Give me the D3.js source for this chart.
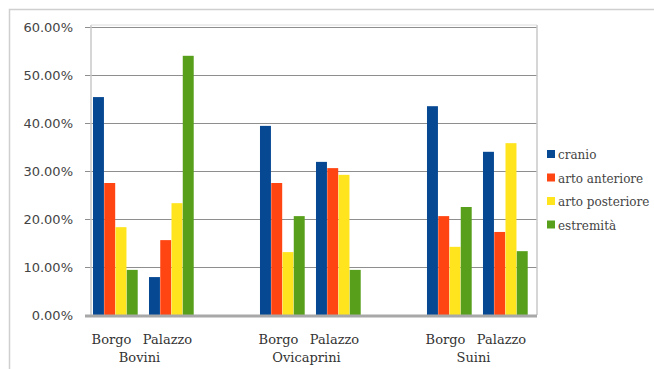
<!DOCTYPE html>
<html>
<head>
<meta charset="utf-8">
<script src="https://d3js.org/d3.v7.min.js"></script>
<style>
  body { margin: 0; background: #fff; }
</style>
</head>
<body>
<svg id="chart" width="654" height="369"></svg>
<script>
// data
const categories = ["Bovini", "Ovicaprini", "Suini"];
const sites = ["Borgo", "Palazzo"];
const series = ["cranio", "arto anteriore", "arto posteriore", "estremità"];
const colors = ["#064892", "#ff4512", "#ffe41e", "#58a01c"];
const yTicks = [0, 0.1, 0.2, 0.3, 0.4, 0.5, 0.6];

// values per category, per site, in series order
const bovini     = [[0.454, 0.275, 0.183, 0.094], [0.079, 0.156, 0.233, 0.540]];
const ovicaprini = [[0.394, 0.275, 0.131, 0.206], [0.319, 0.306, 0.292, 0.094]];
const suini      = [[0.435, 0.206, 0.142, 0.225], [0.340, 0.173, 0.358, 0.133]];
const values = [bovini, ovicaprini, suini];

const serif = "'DejaVu Serif', 'Liberation Serif', serif";

const svg = d3.select("#chart");

// outer frame
svg.append("rect")
  .attr("x", 9.5).attr("y", 9.5)
  .attr("width", 700).attr("height", 400)
  .attr("fill", "none").attr("stroke", "#cfcfcf").attr("stroke-width", 1.5);

const plotLeft = 85, plotRight = 537, plotTop = 27, plotBottom = 315;

const y = d3.scaleLinear().domain([0, 0.6]).range([plotBottom, plotTop]);

const x0 = d3.scaleBand().domain(categories).range([60, 561])
  .paddingInner(0.395).paddingOuter(0.1975);
const x1 = d3.scaleBand().domain(sites).range([0, x0.bandwidth()])
  .paddingInner(0.196).paddingOuter(0);
const x2 = d3.scaleBand().domain(series).range([0, x1.bandwidth()]);

// gridlines
svg.append("g").selectAll("line")
  .data(yTicks.filter(d => d > 0))
  .join("line")
  .attr("x1", plotLeft).attr("x2", plotRight)
  .attr("y1", d => Math.round(y(d)) + 0.5).attr("y2", d => Math.round(y(d)) + 0.5)
  .attr("stroke", "#8e8e8e").attr("stroke-width", 1);

// walls
svg.append("line")
  .attr("x1", 91).attr("x2", 91).attr("y1", plotTop - 2).attr("y2", plotBottom)
  .attr("stroke", "#c8c8c8").attr("stroke-width", 1.5);
svg.append("line")
  .attr("x1", plotRight).attr("x2", plotRight).attr("y1", plotTop - 2).attr("y2", plotBottom)
  .attr("stroke", "#c8c8c8").attr("stroke-width", 1.5);
svg.append("line")
  .attr("x1", 91).attr("x2", plotRight).attr("y1", plotTop - 2).attr("y2", plotTop - 2)
  .attr("stroke", "#dcdcdc").attr("stroke-width", 1);

// y axis labels
const yAxis = d3.axisLeft(y).tickValues(yTicks)
  .tickFormat(d => (d * 100).toFixed(2) + "%")
  .tickSize(0).tickPadding(0);
svg.append("g")
  .attr("transform", `translate(73,0)`)
  .call(yAxis)
  .call(g => g.select(".domain").remove())
  .selectAll("text")
  .style("font-family", "'DejaVu Sans', sans-serif")
  .style("font-size", "13px")
  .attr("fill", "#444");

// bars
const groups = svg.append("g").selectAll("g")
  .data(values)
  .join("g")
  .attr("transform", (d, i) => `translate(${x0(categories[i])},0)`);

const siteGroups = groups.selectAll("g")
  .data(d => d)
  .join("g")
  .attr("transform", (d, i) => `translate(${x1(sites[i])},0)`);

siteGroups.selectAll("rect")
  .data(d => d)
  .join("rect")
  .attr("x", (d, i) => x2(series[i]))
  .attr("y", d => y(d))
  .attr("width", x2.bandwidth() - 0.3)
  .attr("height", d => y(0) - y(d))
  .attr("fill", (d, i) => colors[i]);

// floor
svg.append("line")
  .attr("x1", plotLeft).attr("x2", plotRight).attr("y1", plotBottom + 1).attr("y2", plotBottom + 1)
  .attr("stroke", "#a8a8a8").attr("stroke-width", 3);

// x labels
const xl = svg.append("g");

categories.forEach(c => {
  sites.forEach(s => {
    xl.append("text")
      .attr("x", x0(c) + x1(s) + x1.bandwidth() / 2 - 4)
      .attr("y", 344)
      .attr("text-anchor", "middle")
      .attr("fill", "#333")
      .style("font-family", serif)
      .style("font-size", "13px")
      .text(s);
  });
  xl.append("text")
    .attr("x", x0(c) + x0.bandwidth() / 2 - 4)
    .attr("y", 362)
    .attr("text-anchor", "middle")
    .attr("fill", "#333")
    .style("font-family", serif)
    .style("font-size", "13px")
    .text(c);
});

// legend
const legend = svg.append("g")
  .attr("transform", "translate(547,155)");
const items = legend.selectAll("g")
  .data(series)
  .join("g")
  .attr("transform", (d, i) => `translate(0,${i * 23.5})`);
items.append("rect")
  .attr("x", 0).attr("y", -5)
  .attr("width", 8).attr("height", 8)
  .attr("fill", (d, i) => colors[i]);
items.append("text")
  .attr("x", 11).attr("y", 4)
  .attr("fill", "#444")
  .style("font-family", serif)
  .style("font-size", "12px")
  .text(d => d);
</script>
</body>
</html>
